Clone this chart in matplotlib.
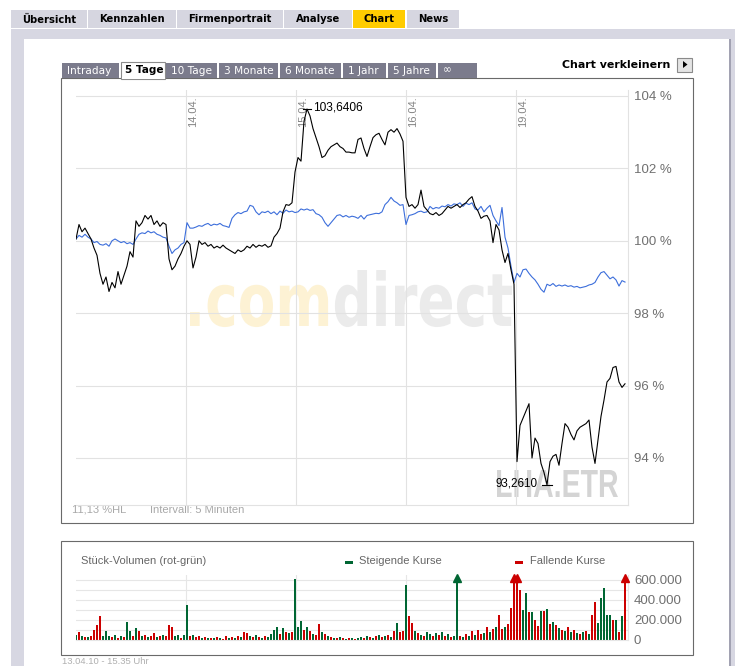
import numpy as np
import matplotlib
matplotlib.use("Agg")
import matplotlib.pyplot as plt
from matplotlib.patches import Rectangle, PathPatch, Polygon
from matplotlib.textpath import TextPath
from matplotlib.font_manager import FontProperties
from matplotlib.transforms import Affine2D

plt.rcParams['font.family'] = ['Liberation Sans', 'DejaVu Sans']

W, H = 735, 666

# ---- data: % of start value, one sample every ~15 min (5 trading days) ----
lha = [100.05, 100.45, 100.25, 100.35, 100.2, 100.05, 99.8, 99.6, 99.1, 98.8,
       99.0, 98.6, 98.85, 98.7, 99.15, 98.8, 99.05, 99.3, 99.7, 99.55,
       100.55, 100.4, 100.5, 100.7, 100.6, 100.7, 100.45, 100.55, 100.4, 100.5,
       100.45, 99.5, 99.2, 99.3, 99.5, 99.65, 99.85, 100.0, 99.9, 99.25,
       99.55, 100.0, 99.9, 99.95, 99.85, 99.9, 99.8, 99.85, 99.8, 99.88,
       99.8, 99.75, 99.7, 99.65, 99.75, 99.7, 99.75, 99.85, 99.8, 99.9,
       99.82, 99.88, 99.85, 99.9, 99.82, 99.86, 100.1, 100.2, 100.35, 100.8,
       101.0, 100.98, 101.05, 101.9, 102.3, 102.2, 103.3, 103.6406, 103.45, 103.1,
       102.85, 102.6, 102.3, 102.35, 102.5, 102.6, 102.65, 102.7, 102.6, 102.55,
       102.45, 102.45, 102.43, 102.43, 102.8, 102.84, 102.55, 102.33, 102.6, 102.85,
       102.93, 102.97, 102.8, 102.65, 103.0, 103.07, 103.0, 103.1, 102.95, 102.75,
       101.2, 100.95, 101.0, 100.9, 101.0, 101.4, 100.95, 100.85, 100.75, 100.72,
       100.78, 100.7, 100.75, 100.85, 100.95, 100.9, 100.95, 101.0, 100.92, 101.0,
       101.05, 101.15, 101.22, 100.95, 100.82, 100.62, 100.68, 100.7, 100.55, 99.95,
       100.45, 100.3, 99.75, 99.4, 99.65, 99.2, 98.8, 93.9, 94.9, 95.1,
       95.3, 95.5, 94.0, 94.55, 94.4, 93.85, 93.6, 93.2610, 93.9, 94.05,
       94.1, 93.8, 94.4, 94.95, 94.85, 94.65, 94.5, 94.75, 94.85, 94.9,
       94.95, 95.05, 94.3, 93.85, 94.5, 95.15, 95.6, 96.1, 96.2, 96.5,
       96.53, 96.1, 95.95, 96.05]

index = [100.05, 100.15, 100.1, 100.18, 100.1, 100.05, 99.95, 99.98, 99.9, 99.88,
         99.92, 99.85, 100.0, 100.05, 100.0, 99.95, 99.98, 99.92, 99.95, 99.9,
         100.05, 100.18, 100.22, 100.2, 100.27, 100.22, 100.25, 100.18, 100.15, 100.1,
         100.08, 99.85, 99.65, 99.75, 99.8, 99.9, 99.95, 100.5, 100.35, 100.35,
         100.38, 100.42, 100.4, 100.45, 100.48, 100.42, 100.46, 100.44, 100.48, 100.42,
         100.4, 100.37, 100.62, 100.72, 100.78, 100.75, 100.8, 100.82, 100.98, 100.95,
         100.8, 100.72, 100.8, 100.78, 100.82, 100.75, 100.8, 100.72, 100.82, 100.76,
         100.85, 100.8, 100.82, 100.78, 100.8, 100.88, 100.85, 100.88, 100.84, 100.86,
         100.75, 100.72, 100.65, 100.5, 100.4, 100.5, 100.6, 100.7, 100.72, 100.66,
         100.7, 100.65, 100.68, 100.66, 100.62, 100.7, 100.6, 100.7, 100.72, 100.74,
         100.76, 100.75, 100.8, 101.0, 101.08, 101.2, 101.1, 101.05, 100.98, 101.0,
         100.45, 100.7, 100.72, 100.75, 100.8, 100.82, 100.78, 100.8, 100.95, 100.88,
         100.92, 100.9, 100.96, 100.94, 101.0, 100.96, 101.02, 101.0, 101.05, 100.95,
         101.04, 101.0, 101.05, 100.88, 100.85, 100.95, 100.8, 100.9, 100.98, 100.7,
         100.55, 100.42, 100.92, 100.1, 99.8, 99.3, 98.85, 99.1, 99.0, 99.2,
         99.22, 99.1, 99.0, 98.92, 98.8, 98.66, 98.58, 98.8, 98.76, 98.82,
         98.74, 98.78, 98.75, 98.78, 98.74, 98.76, 98.72, 98.74, 98.7, 98.72,
         98.74, 98.78, 98.8, 98.85, 99.0, 99.12, 99.15, 99.05, 98.95, 99.0,
         98.92, 98.75, 98.9, 98.86]

# volume in thousand shares per sample, g = rising, r = falling
vol_k = [50, 80, 40, 30, 30, 40, 100, 150, 240, 40,
         90, 40, 30, 50, 20, 40, 30, 180, 90, 40,
         120, 90, 40, 50, 30, 40, 70, 30, 40, 50,
         40, 150, 130, 40, 50, 20, 50, 350, 40, 50,
         30, 40, 20, 30, 20, 20, 20, 30, 20, 10,
         40, 20, 30, 20, 40, 30, 80, 70, 40, 30,
         50, 30, 20, 40, 30, 60, 100, 130, 60, 120,
         80, 70, 80, 640, 130, 190, 100, 130, 90, 60,
         50, 160, 80, 60, 40, 30, 20, 20, 30, 20,
         10, 20, 20, 10, 20, 30, 20, 40, 30, 20,
         40, 50, 30, 40, 50, 30, 90, 170, 80, 90,
         550, 240, 170, 90, 70, 50, 40, 80, 60, 40,
         70, 50, 80, 40, 60, 30, 40, 900, 40, 30,
         60, 40, 90, 50, 100, 60, 70, 130, 80, 110,
         130, 250, 110, 130, 160, 320, 900, 900, 500, 300,
         470, 280, 280, 200, 140, 290, 290, 310, 160, 180,
         150, 120, 100, 90, 130, 80, 100, 70, 60, 80,
         90, 60, 250, 380, 170, 420, 520, 250, 250, 200,
         200, 80, 240, 900]
vol_dir = ("grgrgrrrrg" "ggrgrgrggr" "grgrgrrgrg" "rrrggrggrg" "rrgrgrgrgr"
           "rgrgrgrrgr" "grgrggggrg" "rgrgggrgrg" "rrgrgrgrgr" "grgrggrgrg"
           "rgrgrgrgrr" "grrgrgrggr" "grgrgrggrg" "rgrgrrgrgr" "grrgrrrrrg"
           "grgrrgrgrg" "rgrgrgrgrg" "rgrrgggggr" "grgr")

days = ["14.04.", "15.04.", "16.04.", "19.04."]
pct_ticks = [94, 96, 98, 100, 102, 104]
vol_ticks = [0, 200000, 400000, 600000]
vol_labels = ["0", "200.000", "400.000", "600.000"]
nav_tabs = ["Übersicht", "Kennzahlen", "Firmenportrait", "Analyse", "Chart", "News"]
range_tabs = ["Intraday", "5 Tage", "10 Tage", "3 Monate", "6 Monate", "1 Jahr", "5 Jahre", "∞"]

# ---- layout (pixels) ----
nav_x = [(11, 87), (88, 176), (177, 283), (284, 352), (353, 405), (407, 459)]
rng_x = [(62, 119), (121, 165), (166, 217), (219, 278), (280, 341), (343, 386), (388, 436), (438, 477)]
n = len(lha)
day_len = 110 / 3.0
GREEN, RED, BLUE = "#006633", "#cc0000", "#3c6edb"

fig = plt.figure(figsize=(W / 100, H / 100), dpi=100)
bg = fig.add_axes([0, 0, 1, 1])
bg.set_xlim(0, W)
bg.set_ylim(H, 0)
bg.axis("off")


def box(x0, y0, x1, y1, fc, ec="none", lw=0.0, z=1):
    bg.add_patch(Rectangle((x0, y0), x1 - x0, y1 - y0, fc=fc, ec=ec, lw=lw, zorder=z))


def px_axes(x0, y0, x1, y1):
    return fig.add_axes([x0 / W, 1 - y1 / H, (x1 - x0) / W, (y1 - y0) / H])


def path_text(s, x0, base, w, h, family="DejaVu Sans", weight="bold"):
    # text squeezed into a w x h box (for the condensed watermarks)
    prop = FontProperties(family=family, weight=weight)
    full = TextPath((0, 0), s, size=10, prop=prop).get_extents()
    sx, sy = w / full.width, h / full.height
    tr = Affine2D().translate(-full.x0, 0).scale(sx, -sy).translate(x0, base)
    return prop, tr


# page frame
box(11, 29, 735, 666, "#d7d7e2")
box(24, 39, 729, 666, "white")
box(729, 39, 731, 666, "#a2a2b2")

for (x0, x1), lab in zip(nav_x, nav_tabs):
    box(x0, 10, x1, 28, "#ffcc00" if lab == "Chart" else "#d6d6e0")
    bg.text((x0 + x1) / 2, 19.5, lab, ha="center", va="center", fontsize=7.2,
            fontweight="bold", family="DejaVu Sans", color="black")

# chart boxes
box(61.5, 77.5, 693.5, 522.5, "white", ec="#6a6a6a", lw=0.8)
box(61.5, 540.5, 693.5, 654.5, "white", ec="#6a6a6a", lw=0.8)

for (x0, x1), lab in zip(rng_x, range_tabs):
    if lab == "5 Tage":
        box(x0 + 0.5, 61.5, x1 + 0.5, 78.5, "white", ec="#8c8c8c", lw=0.8, z=2)
        box(x0 + 1, 77, x1, 79, "white", z=3)
        bg.text(x0 + 4, 70, lab, ha="left", va="center", fontsize=7.6,
                fontweight="bold", family="DejaVu Sans", color="black", zorder=4)
    else:
        box(x0, 63, x1, 77.5, "#7b7b8c", z=2)
        bg.text(x0 + 5, 70.5, lab, ha="left", va="center", fontsize=7.6,
                family="DejaVu Sans", color="white", zorder=4)

bg.text(670, 64.5, "Chart verkleinern", ha="right", va="center", fontsize=7.9,
        fontweight="bold", family="DejaVu Sans", color="black")
box(677.5, 57.5, 692.5, 71.5, "#e4e4e4", ec="#8a8a8a", lw=0.8)
bg.add_patch(Polygon([(683, 61), (683, 68), (687.5, 64.5)], closed=True, fc="black", ec="none", zorder=2))

# watermarks
prop, tr = path_text(".comdirect", 190, 326, 322, 57)
p_com = TextPath((0, 0), ".com", size=10, prop=prop)
adv = TextPath((0, 0), ".comd", size=10, prop=prop).get_extents().x1 - \
      TextPath((0, 0), "d", size=10, prop=prop).get_extents().x1
p_dir = TextPath((adv, 0), "direct", size=10, prop=prop)
bg.add_patch(PathPatch(tr.transform_path(p_com), fc="#fdf2d4", ec="none", zorder=2))
bg.add_patch(PathPatch(tr.transform_path(p_dir), fc="#ebebeb", ec="none", zorder=2))
prop2, tr2 = path_text("LHA.ETR", 497, 497, 121, 27, family="Liberation Sans")
bg.add_patch(PathPatch(tr2.transform_path(TextPath((0, 0), "LHA.ETR", size=10, prop=prop2)),
                       fc="#d4d4d4", ec="none", zorder=2))

# ---- price chart ----
ax = px_axes(76, 90, 628, 505)
ax.patch.set_alpha(0)
x = np.arange(n)
ax.set_xlim(0, 184)
ax.set_ylim(104 - 409 / 36.2, 104 + 6 / 36.2)
grid_c = "#e2e2e2"
for t in pct_ticks:
    ax.axhline(t, color=grid_c, lw=0.8, zorder=0)
for k in range(1, 5):
    ax.axvline(k * day_len, color=grid_c, lw=0.8, zorder=0)
for s in ["top", "left"]:
    ax.spines[s].set_visible(False)
for s in ["bottom", "right"]:
    ax.spines[s].set_color(grid_c)
    ax.spines[s].set_linewidth(0.8)
ax.set_xticks([])
ax.yaxis.tick_right()
ax.set_yticks(pct_ticks)
ax.set_yticklabels([f"{t} %" for t in pct_ticks])
ax.tick_params(axis="y", length=0, pad=4.3, labelsize=9.5, labelcolor="#707070")

ax.plot(x, index, color=BLUE, lw=0.8, zorder=3)
ax.plot(x, lha, color="black", lw=0.8, zorder=4)

for k, d in enumerate(days, start=1):
    ax.text(k * day_len + 0.6, (505 - 96) / 415, d, rotation=90, ha="left", va="top",
            fontsize=8, color="#858585", transform=ax.get_xaxis_transform())

imax, imin = int(np.argmax(lha)), int(np.argmin(lha))
ax.plot([imax - 1.3, imax + 1.3], [lha[imax]] * 2, color="black", lw=0.8, zorder=5)
ax.text(imax + 2, lha[imax] + 0.03, f"{lha[imax]:.4f}".replace(".", ","), ha="left", va="center",
        fontsize=8.6, color="black")
ax.plot([imin - 1.7, imin + 1.7], [lha[imin]] * 2, color="black", lw=0.8, zorder=5)
ax.text(imin - 3.2, lha[imin] + 0.03, f"{lha[imin]:.4f}".replace(".", ","), ha="right", va="center",
        fontsize=8.4, color="black")

bg.text(72, 510, "11,13 %HL", ha="left", va="center", fontsize=8, color="#a8a8a8")
bg.text(150, 510, "Intervall: 5 Minuten", ha="left", va="center", fontsize=8, color="#a8a8a8")

# ---- volume chart ----
vx = px_axes(76, 575, 628, 640)
vx.patch.set_alpha(0)
vx.set_xlim(0, 184)
vx.set_ylim(0, 650000)
vgrid = "#e6e6e6"
for t in range(100000, 700000, 100000):
    vx.axhline(t, color=vgrid, lw=0.8, zorder=0)
for k in range(1, 5):
    vx.axvline(k * day_len, color=vgrid, lw=0.8, zorder=0)
for s in ["top", "left"]:
    vx.spines[s].set_visible(False)
for s in ["bottom", "right"]:
    vx.spines[s].set_color(vgrid)
    vx.spines[s].set_linewidth(0.8)
vx.set_xticks([])
vx.yaxis.tick_right()
vx.set_yticks(vol_ticks)
vx.set_yticklabels(vol_labels)
vx.tick_params(axis="y", length=0, pad=4.3, labelsize=9.5, labelcolor="#707070")

vol = np.array(vol_k) * 1000.0
cols = [GREEN if c == "g" else RED for c in vol_dir]
vx.bar(np.arange(len(vol)), np.minimum(vol, 615000), width=0.6, color=cols, lw=0, zorder=2)
for i, v in enumerate(vol):
    if v > 650000:
        vx.plot(i, 618000, marker="^", ms=5.5, color=cols[i], mec=cols[i], clip_on=False, zorder=3)

bg.text(81, 561, "Stück-Volumen (rot-grün)", ha="left", va="center", fontsize=8, color="#666666")
box(345, 561, 353, 564, GREEN)
bg.text(359, 561, "Steigende Kurse", ha="left", va="center", fontsize=8, color="#666666")
box(515, 561, 523, 564, RED)
bg.text(530, 561, "Fallende Kurse", ha="left", va="center", fontsize=8, color="#666666")

bg.text(62, 665.5, "13.04.10 - 15.35 Uhr", ha="left", va="bottom", fontsize=6.8, color="#b0b0b0")

fig.savefig("out.png", dpi=100)
